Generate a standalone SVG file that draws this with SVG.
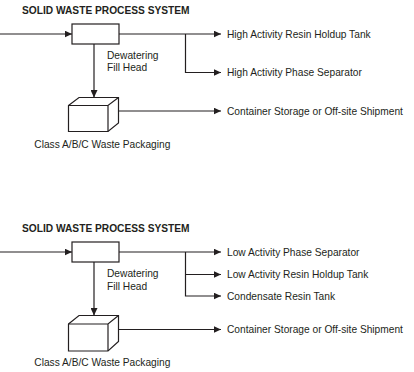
<svg xmlns="http://www.w3.org/2000/svg" width="414" height="372" viewBox="0 0 414 372">
<style>
text{font-family:"Liberation Sans",Arial,sans-serif;font-size:10.2px;fill:#231f20}
.t{font-weight:bold}
.ln{stroke:#231f20;stroke-width:1.2;fill:none}
.bx{stroke:#231f20;stroke-width:1.2;fill:#fff}
</style>
<defs>
<marker id="ah" markerWidth="8" markerHeight="7" refX="7.5" refY="3.5" orient="auto" markerUnits="userSpaceOnUse">
<path d="M0,0 L7.5,3.5 L0,7 Z" fill="#231f20"/>
</marker>
</defs>
<rect width="414" height="372" fill="#fff"/>

<g id="diagram-high">
<text class="t" x="22" y="13.5">SOLID WASTE PROCESS SYSTEM</text>
<g id="connectors-high">
<line class="ln" x1="0" y1="34" x2="72" y2="34" marker-end="url(#ah)"/>
<line class="ln" x1="119" y1="34" x2="221" y2="34" marker-end="url(#ah)"/>
<polyline class="ln" points="185.5,34 185.5,72.5 221,72.5" marker-end="url(#ah)"/>
<line class="ln" x1="94" y1="44" x2="94" y2="97.5" marker-end="url(#ah)"/>
<line class="ln" x1="118.5" y1="111" x2="221" y2="111" marker-end="url(#ah)"/>
</g>
<g id="fillhead-high">
<rect class="bx" x="72" y="24" width="47" height="20"/>
<text x="107" y="58.5">Dewatering</text>
<text x="107" y="70.5">Fill Head</text>
</g>
<g id="package-high">
<path class="bx" d="M68.5,105.5 L79,97.5 L118.5,97.5 L118.5,123 L108,131.5 L68.5,131.5 Z"/>
<path class="ln" d="M68.5,105.5 L108,105.5 L118.5,97.5 M108,105.5 L108,131.5"/>
<text x="34.3" y="148">Class A/B/C Waste Packaging</text>
</g>
<g id="targets-high">
<text x="227" y="37.5">High Activity Resin Holdup Tank</text>
<text x="227" y="76">High Activity Phase Separator</text>
<text x="227" y="114.5">Container Storage or Off-site Shipment</text>
</g>
</g>

<g id="diagram-low">
<text class="t" x="22" y="231.5">SOLID WASTE PROCESS SYSTEM</text>
<g id="connectors-low">
<line class="ln" x1="0" y1="252" x2="72" y2="252" marker-end="url(#ah)"/>
<line class="ln" x1="119" y1="252" x2="221" y2="252" marker-end="url(#ah)"/>
<polyline class="ln" points="185.5,252 185.5,296 221,296" marker-end="url(#ah)"/>
<line class="ln" x1="185.5" y1="274.5" x2="221" y2="274.5" marker-end="url(#ah)"/>
<line class="ln" x1="94" y1="262" x2="94" y2="315.5" marker-end="url(#ah)"/>
<line class="ln" x1="118.5" y1="329.5" x2="221" y2="329.5" marker-end="url(#ah)"/>
</g>
<g id="fillhead-low">
<rect class="bx" x="72" y="242" width="47" height="20"/>
<text x="107" y="277">Dewatering</text>
<text x="107" y="289.5">Fill Head</text>
</g>
<g id="package-low">
<path class="bx" d="M68.5,324 L79,315.5 L118.5,315.5 L118.5,341.5 L108,351 L68.5,351 Z"/>
<path class="ln" d="M68.5,324 L108,324 L118.5,315.5 M108,324 L108,351"/>
<text x="34.3" y="366">Class A/B/C Waste Packaging</text>
</g>
<g id="targets-low">
<text x="227" y="255.5">Low Activity Phase Separator</text>
<text x="227" y="278">Low Activity Resin Holdup Tank</text>
<text x="227" y="299.5">Condensate Resin Tank</text>
<text x="227" y="333">Container Storage or Off-site Shipment</text>
</g>
</g>
</svg>
